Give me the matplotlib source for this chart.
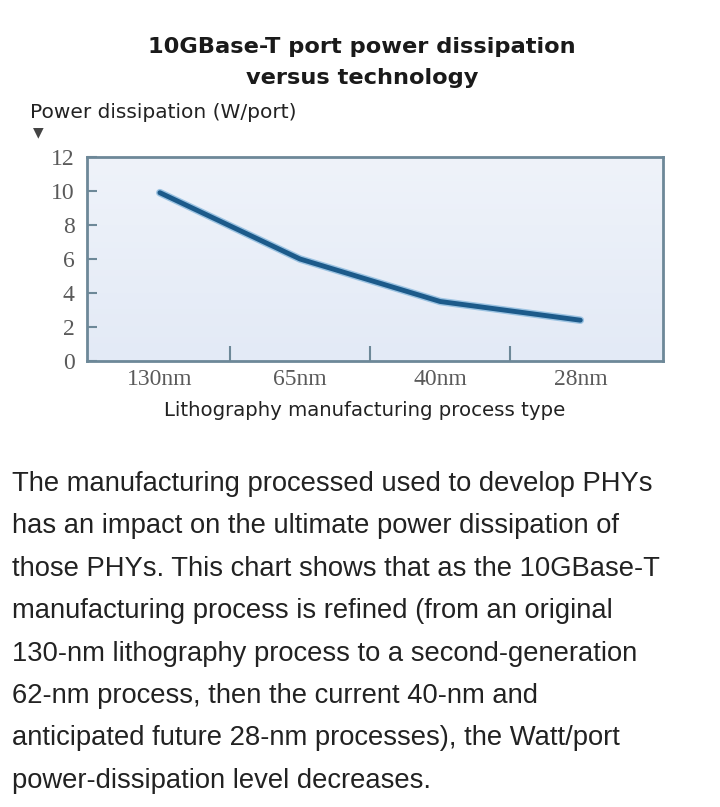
import matplotlib.pyplot as plt
import matplotlib.patheffects as pe
import numpy as np

# data
processes = ['130nm', '65nm', '40nm', '28nm']
power_w = [9.9, 6.0, 3.5, 2.4]
y_ticks = [0, 2, 4, 6, 8, 10, 12]

paragraph = [
    "The manufacturing processed used to develop PHYs",
    "has an impact on the ultimate power dissipation of",
    "those PHYs. This chart shows that as the 10GBase-T",
    "manufacturing process is refined (from an original",
    "130-nm lithography process to a second-generation",
    "62-nm process, then the current 40-nm and",
    "anticipated future 28-nm processes), the Watt/port",
    "power-dissipation level decreases.",
]

W, H = 720, 807
fig = plt.figure(figsize=(W / 100, H / 100), dpi=100)

# axes box in pixels: x 87..663, y 157..361
ax = fig.add_axes([87 / W, 1 - 361 / H, (663 - 87) / W, (361 - 157) / H])
ax.set_facecolor('#e9eff8')
# soft vertical shading like the original panel
grad = np.linspace(0, 1, 100).reshape(-1, 1)
ax.imshow(grad, extent=[-0.52, 3.59, 0, 12], aspect='auto', origin='lower',
          cmap=plt.matplotlib.colors.LinearSegmentedColormap.from_list('bg', ['#e3eaf6', '#eff3fa']),
          zorder=0)

x = np.arange(len(processes))
ax.plot(x, power_w, color='#1c5a8a', lw=3.5, solid_capstyle='round', zorder=3,
        path_effects=[pe.Stroke(linewidth=5.5, foreground='#9cc3e2'), pe.Normal()])

ax.set_xlim(-0.52, 3.59)
ax.set_ylim(0, 12)

spine_c = '#6d8898'
for s in ax.spines.values():
    s.set_color(spine_c)
    s.set_linewidth(2)

ax.set_yticks(y_ticks)
ax.set_yticklabels([str(v) for v in y_ticks], family='Liberation Serif',
                   fontsize=17, color='#5a5a5a')
ax.tick_params(axis='y', direction='in', length=7, width=1.5, color=spine_c, pad=9)

ax.set_xticks(x)
ax.set_xticklabels(processes, family='Liberation Serif', fontsize=17, color='#5a5a5a')
ax.tick_params(axis='x', which='major', length=0, pad=6)
ax.set_xticks(x[:-1] + 0.5, minor=True)
ax.tick_params(axis='x', which='minor', direction='in', length=11, width=1.5, color=spine_c)

# titles and labels
fig.text(362 / W, 1 - 47 / H, "10GBase-T port power dissipation", ha='center', va='center',
         fontsize=16.2, fontweight='bold', family='DejaVu Sans', color='#1a1a1a')
fig.text(362 / W, 1 - 78 / H, "versus technology", ha='center', va='center',
         fontsize=16.2, fontweight='bold', family='DejaVu Sans', color='#1a1a1a')
fig.text(30 / W, 1 - 112 / H, "Power dissipation (W/port)", ha='left', va='center',
         fontsize=14.5, family='DejaVu Sans', color='#222222')
fig.text(38 / W, 1 - 132 / H, "\u25BC", ha='center', va='center',
         fontsize=10, family='DejaVu Sans', color='#444444')
fig.text(365 / W, 1 - 411 / H, "Lithography manufacturing process type", ha='center', va='center',
         fontsize=14.2, family='DejaVu Sans', color='#222222')

# caption paragraph, sized so the first line spans the same width as the original
y0 = 484
lines = []
for i, line in enumerate(paragraph):
    t = fig.text(12 / W, 1 - (y0 + i * 42.4) / H, line, ha='left', va='center',
                 fontsize=20, family='Liberation Sans', color='#222222')
    lines.append(t)
fig.canvas.draw()
w0 = lines[0].get_window_extent().width
fs = 20 * 640 / w0
for t in lines:
    t.set_fontsize(fs)

fig.savefig('out.png', dpi=100, facecolor='white')
